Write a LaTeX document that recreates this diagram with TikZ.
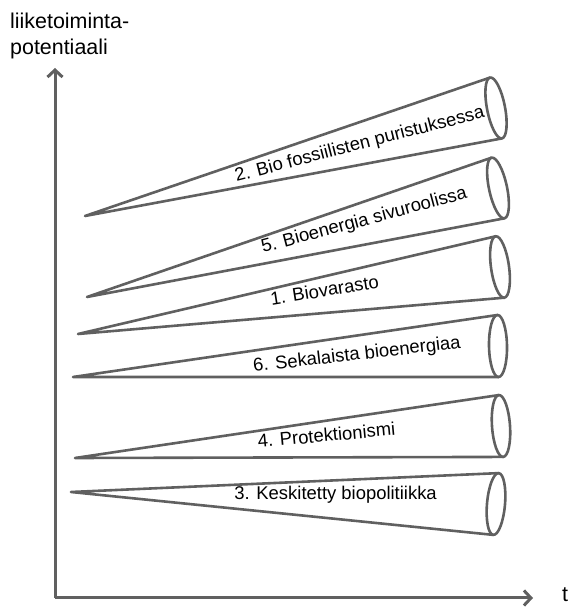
\documentclass[tikz,border=0pt]{standalone}
\usepackage{fontspec}
\setmainfont{Liberation Sans}
\definecolor{lngray}{RGB}{96,96,96}
\usepackage{tikz}
\usetikzlibrary{arrows.meta,shapes.geometric}

\begin{document}
\begin{tikzpicture}[x=1bp, y=1bp,
  coneline/.style={draw=lngray, line width=2.6bp, line join=round},
  coneend/.style={ellipse, draw=lngray, line width=2.6bp, inner sep=0pt, outer sep=0pt,
    minimum width=18bp, minimum height=62bp},
  conelabel/.style={anchor=base, inner sep=0pt, font=\fontsize{18.5}{22}\selectfont},
  axisline/.style={draw=lngray, line width=3bp, -{Straight Barb[length=7bp, width=15bp]}}]
\useasboundingbox (0,0) rectangle (571,607);

% Axes
\coordinate (o) at (55,9);
\coordinate (ytop) at (55,539);
\coordinate (xend) at (533,9);
\draw[axisline] (o) -- (ytop);
\draw[axisline] (o) -- (xend);
\node[anchor=north west, inner sep=0pt, align=left, font=\fontsize{21.5}{26}\selectfont] (ylab) at (10,594.5)
  {liiketoiminta-\\potentiaali};
\node[anchor=base, inner sep=0pt, font=\fontsize{21.5}{24}\selectfont] (xlab) at (565,5) {t};

% Cone 2
\coordinate (tip2) at (85,391);
\node[coneend, rotate=11] (end2) at (496,499) {};
\draw[coneline] (end2.north) -- (tip2) -- (end2.south);
\node[conelabel, rotate=14.5] (lab2) at (361,457.5) {2. Bio fossiilisten puristuksessa};

% Cone 5
\coordinate (tip5) at (87,310);
\node[coneend, rotate=12] (end5) at (498,419) {};
\draw[coneline] (end5.north) -- (tip5) -- (end5.south);
\node[conelabel, rotate=15] (lab5) at (365.5,381.5) {5. Bioenergia sivuroolissa};

% Cone 1
\coordinate (tip1) at (78,273);
\node[coneend, rotate=8] (end1) at (500,340) {};
\draw[coneline] (end1.north) -- (tip1) -- (end1.south);
\node[conelabel, rotate=9] (lab1) at (325.5,310.5) {1. Biovarasto};

% Cone 6
\coordinate (tip6) at (73,230);
\node[coneend, rotate=1] (end6) at (498,261) {};
\draw[coneline] (end6.north) -- (tip6) -- (end6.south);
\node[conelabel, rotate=6.6] (lab6) at (357.5,247) {6. Sekalaista bioenergiaa};

% Cone 4
\coordinate (tip4) at (75,149);
\node[coneend, rotate=4] (end4) at (501,181) {};
\draw[coneline] (end4.north) -- (tip4) -- (end4.south);
\node[conelabel, rotate=5.3] (lab4) at (327,165.5) {4. Protektionismi};

% Cone 3
\coordinate (tip3) at (71,115);
\node[coneend, rotate=-5] (end3) at (496,103) {};
\draw[coneline] (end3.north) -- (tip3) -- (end3.south);
\node[conelabel] (lab3) at (335.5,107) {3. Keskitetty biopolitiikka};

\end{tikzpicture}
\end{document}
